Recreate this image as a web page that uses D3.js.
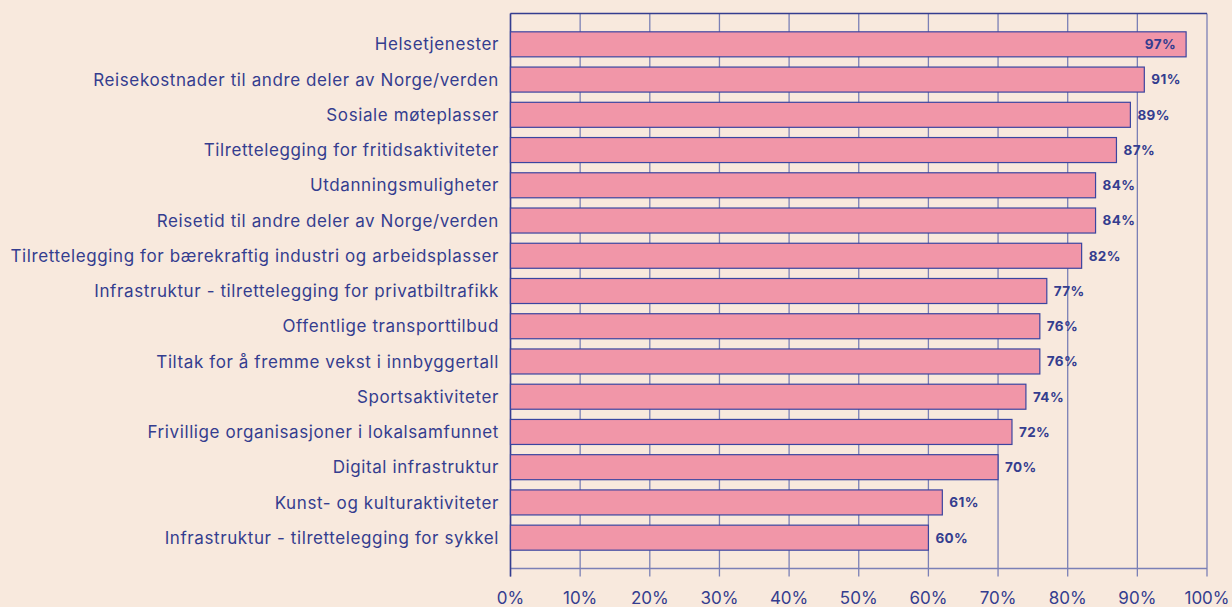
<!DOCTYPE html>
<html>
<head>
<meta charset="utf-8">
<script src="https://cdn.jsdelivr.net/npm/d3@7"></script>
<style>
  html, body { margin: 0; padding: 0; background: #f8e9dd; }
  svg { display: block; font-family: Inter, "Noto Sans", sans-serif; }
</style>
</head>
<body>
<div class="chart"></div>
<script>
var categories = [
  "Helsetjenester",
  "Reisekostnader til andre deler av Norge/verden",
  "Sosiale møteplasser",
  "Tilrettelegging for fritidsaktiviteter",
  "Utdanningsmuligheter",
  "Reisetid til andre deler av Norge/verden",
  "Tilrettelegging for bærekraftig industri og arbeidsplasser",
  "Infrastruktur - tilrettelegging for privatbiltrafikk",
  "Offentlige transporttilbud",
  "Tiltak for å fremme vekst i innbyggertall",
  "Sportsaktiviteter",
  "Frivillige organisasjoner i lokalsamfunnet",
  "Digital infrastruktur",
  "Kunst- og kulturaktiviteter",
  "Infrastruktur - tilrettelegging for sykkel"
];
// bar lengths as drawn in the picture
var values = [97, 91, 89, 87, 84, 84, 82, 77, 76, 76, 74, 72, 70, 62, 60];
// value labels as printed
var valueLabels = ["97%", "91%", "89%", "87%", "84%", "84%", "82%", "77%", "76%", "76%", "74%", "72%", "70%", "61%", "60%"];
var ticks = [0, 10, 20, 30, 40, 50, 60, 70, 80, 90, 100];

var width = 1232, height = 607;
var plotLeft = 510.5, plotRight = 1207, plotTop = 13.5, plotBottom = 568.5;
var ink = "#343d8f";
var grid = "#7b80b6";

var svg = d3.select(".chart").append("svg")
  .attr("width", width)
  .attr("height", height);

svg.append("rect").attr("width", width).attr("height", height).attr("fill", "#f8e9dd");

var x = d3.scaleLinear().domain([0, 100]).range([plotLeft, plotRight]);
var y = d3.scaleBand().domain(categories).range([plotTop, plotBottom])
  .paddingInner(0.29).paddingOuter(0.52);

// gridlines
svg.append("g").selectAll("line")
  .data(ticks)
  .enter().append("line")
  .attr("x1", function(d) { return x(d); })
  .attr("x2", function(d) { return x(d); })
  .attr("y1", plotTop)
  .attr("y2", plotBottom + 8)
  .attr("stroke", grid)
  .attr("stroke-width", 1.3);

svg.append("line")
  .attr("x1", plotLeft).attr("x2", plotRight)
  .attr("y1", plotTop).attr("y2", plotTop)
  .attr("stroke", ink).attr("stroke-width", 1.3);

svg.append("line")
  .attr("x1", plotLeft).attr("x2", plotRight)
  .attr("y1", plotBottom).attr("y2", plotBottom)
  .attr("stroke", grid).attr("stroke-width", 1.3);

svg.append("line")
  .attr("x1", plotLeft).attr("x2", plotLeft)
  .attr("y1", plotTop).attr("y2", plotBottom + 8)
  .attr("stroke", ink).attr("stroke-width", 1.5);

// bars
svg.append("g").selectAll("rect")
  .data(values)
  .enter().append("rect")
  .attr("x", x(0))
  .attr("y", function(d, i) { return y(categories[i]); })
  .attr("width", function(d) { return x(d) - x(0); })
  .attr("height", y.bandwidth())
  .attr("fill", "#f196a8")
  .attr("stroke", "#3b45a0")
  .attr("stroke-width", 1.2);

// value labels
svg.append("g").selectAll("text")
  .data(values)
  .enter().append("text")
  .text(function(d, i) { return valueLabels[i]; })
  .attr("x", function(d) { return d > 95 ? x(d) - 10 : x(d) + 7; })
  .attr("y", function(d, i) { return y(categories[i]) + y.bandwidth() / 2; })
  .attr("dy", "0.36em")
  .attr("text-anchor", function(d) { return d > 95 ? "end" : "start"; })
  .attr("font-size", "13.5px")
  .attr("letter-spacing", "0.4px")
  .attr("font-weight", 700)
  .attr("fill", ink);

// category labels
svg.append("g").selectAll("text")
  .data(categories)
  .enter().append("text")
  .text(function(d) { return d; })
  .attr("x", 499)
  .attr("y", function(d) { return y(d) + y.bandwidth() / 2; })
  .attr("dy", "0.36em")
  .attr("text-anchor", "end")
  .attr("font-size", "17px")
  .attr("letter-spacing", "0.6px")
  .attr("fill", ink);

// x tick labels
svg.append("g").selectAll("text")
  .data(ticks)
  .enter().append("text")
  .text(function(d) { return d + "%"; })
  .attr("x", function(d) { return x(d); })
  .attr("y", 604)
  .attr("text-anchor", "middle")
  .attr("font-size", "17px")
  .attr("fill", ink);
</script>
</body>
</html>
